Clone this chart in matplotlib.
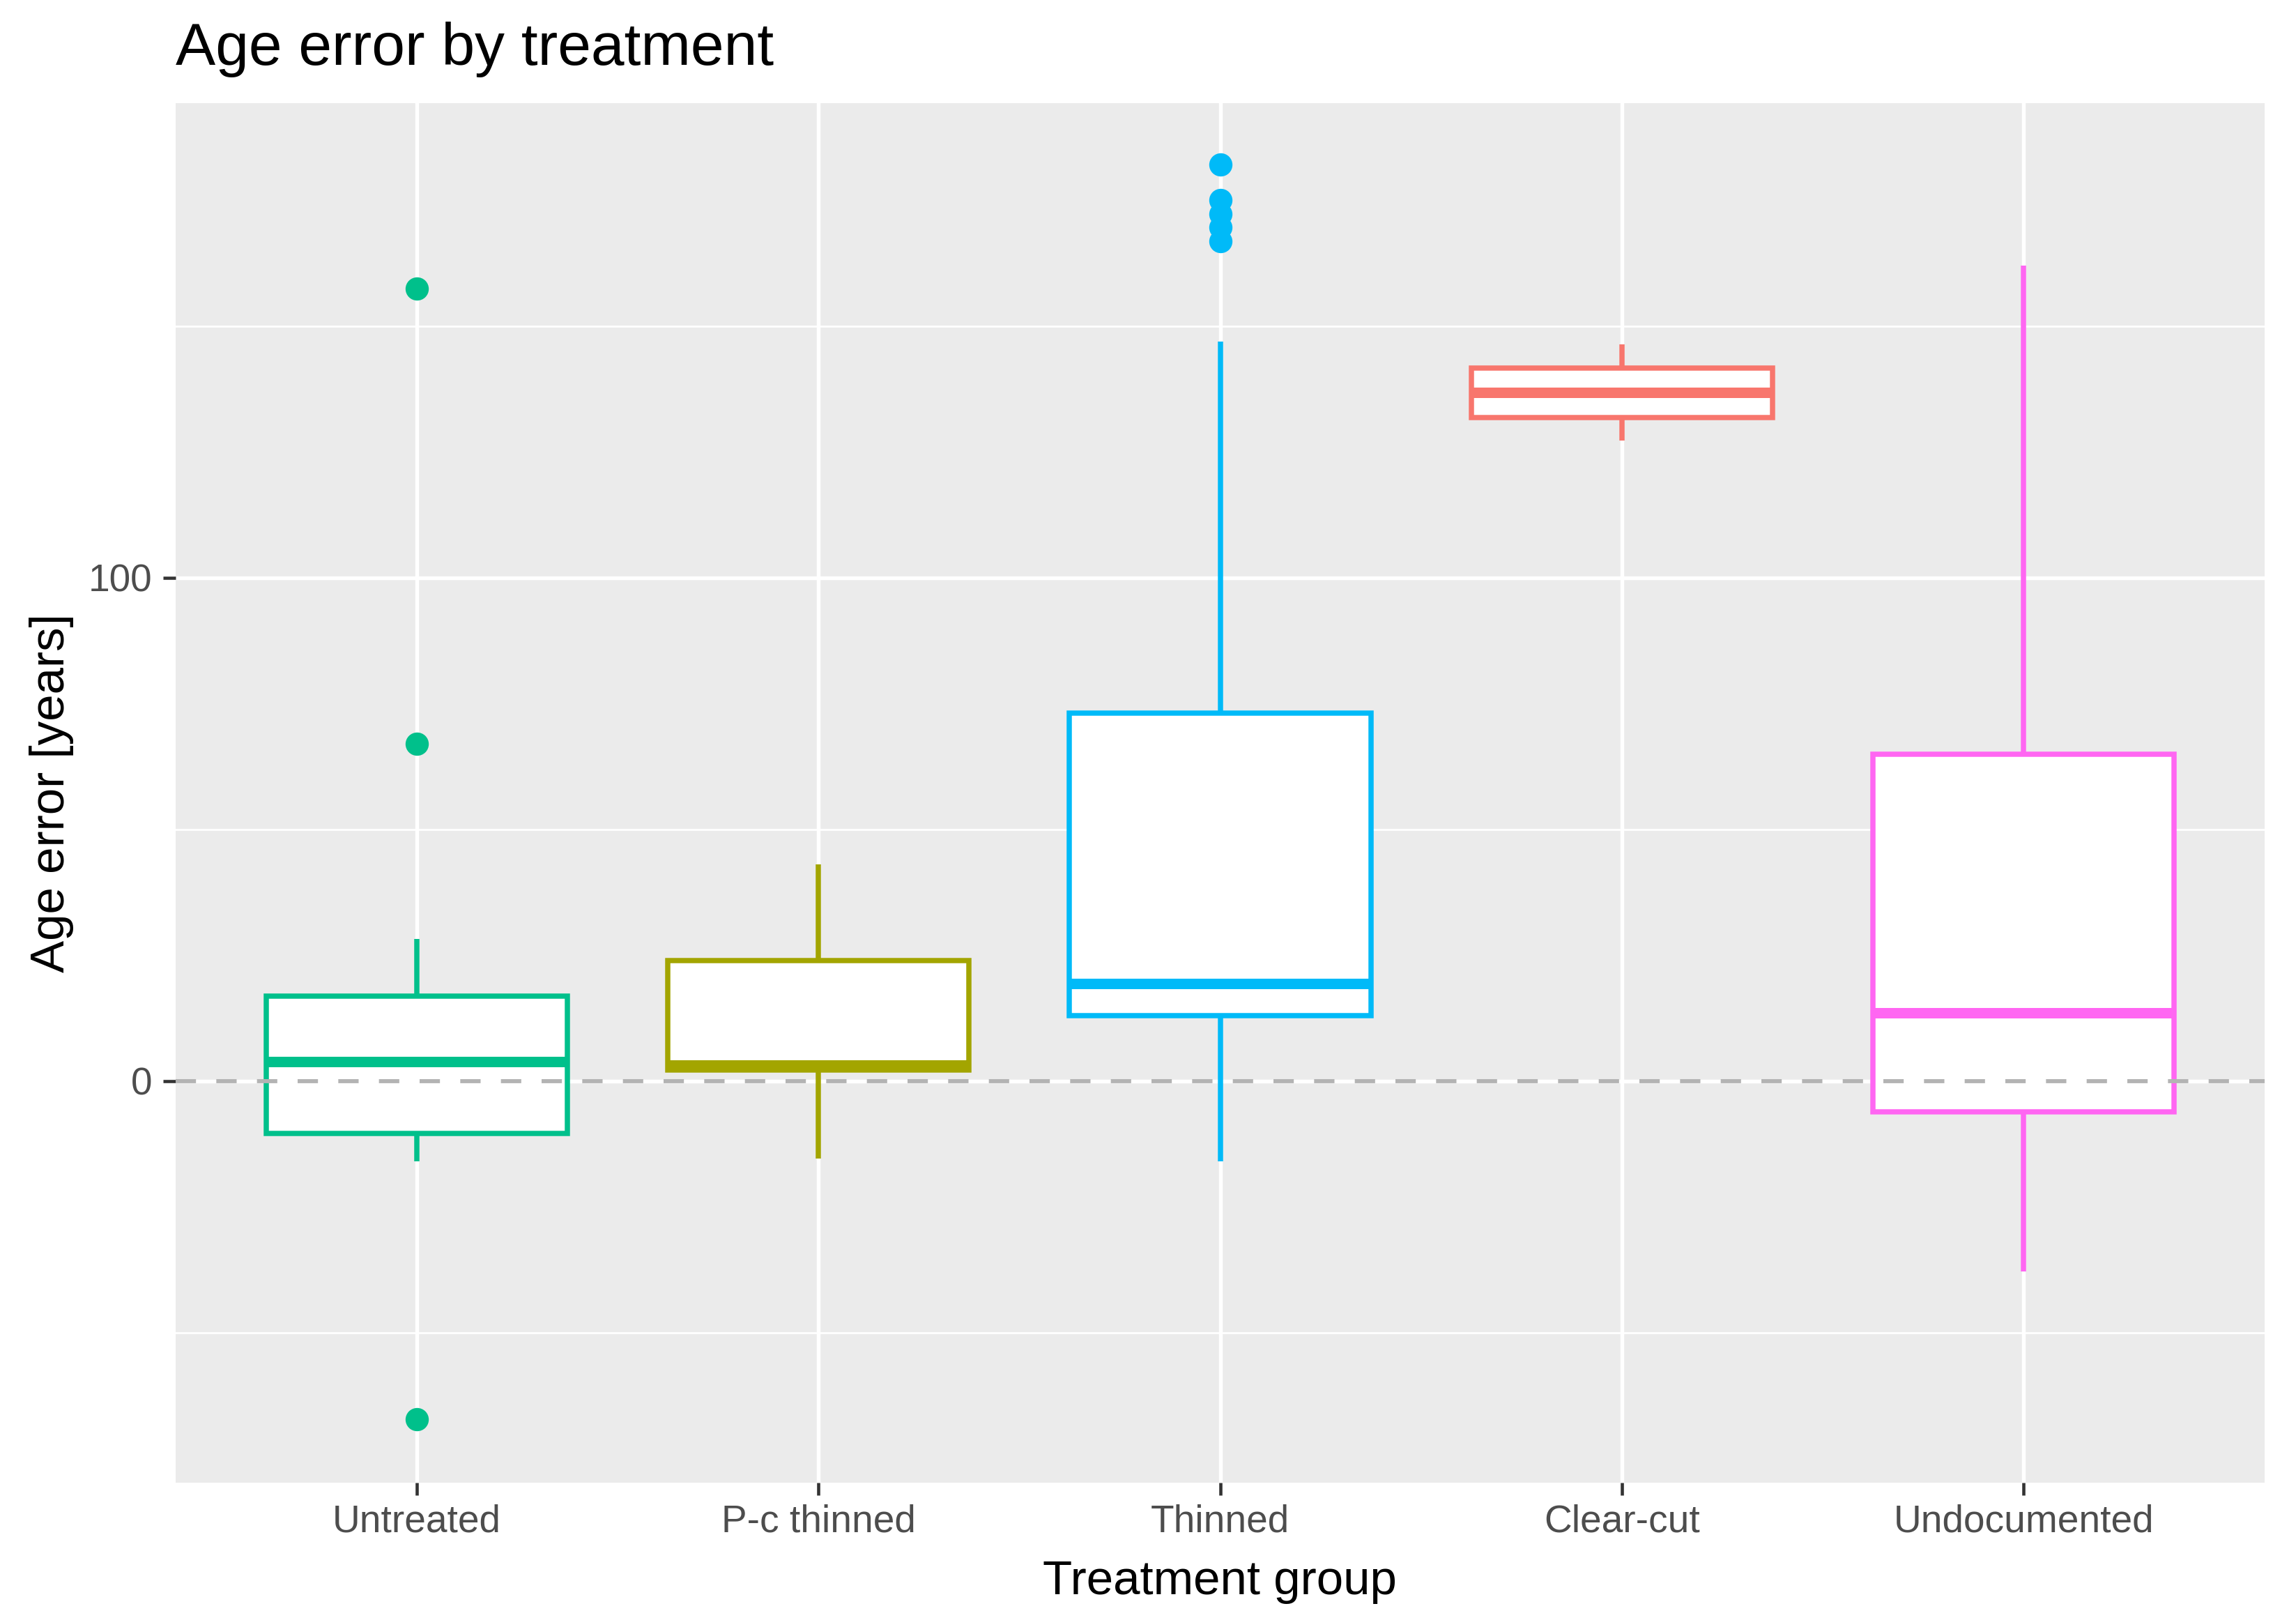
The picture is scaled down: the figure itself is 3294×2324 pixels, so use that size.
import matplotlib
matplotlib.use('Agg')
import matplotlib.pyplot as plt
from matplotlib.ticker import FixedLocator

plt.rcParams['font.family'] = ['Liberation Sans', 'DejaVu Sans']

# datos (años)
grupos = ['Untreated', 'P-c thinned', 'Thinned', 'Clear-cut', 'Undocumented']
colores = ['#00C08B', '#A3A500', '#00BAF8', '#F8766D', '#FF66F2']
bigote_inf = [-15.9, -15.4, -16.0, 127.3, -37.9]
q1 = [-10.4, 2.2, 13.0, 131.8, -6.1]
mediana = [3.9, 3.1, 19.4, 136.8, 13.6]
q3 = [16.9, 23.9, 73.1, 141.7, 64.9]
bigote_sup = [28.2, 43.0, 147.0, 146.4, 162.0]
atipicos = [[157.4, 67.0, -67.2], [], [182.1, 175.0, 172.3, 169.6, 166.9], [], []]

stats = []
for i in range(len(grupos)):
    stats.append(dict(label=grupos[i], whislo=bigote_inf[i], q1=q1[i], med=mediana[i],
                      q3=q3[i], whishi=bigote_sup[i], fliers=atipicos[i]))

fig = plt.figure(figsize=(3295 / 300, 2324 / 300), dpi=300)
ax = fig.add_axes([252 / 3295, 1 - 2127 / 2324, (3249 - 252) / 3295, (2127 - 148) / 2324])
ax.set_facecolor('#EBEBEB')

posiciones = list(range(1, len(grupos) + 1))
lw = 1.8
for i, st in enumerate(stats):
    c = colores[i]
    ax.bxp([st], positions=[posiciones[i]], widths=0.75, patch_artist=True, showcaps=False,
           boxprops=dict(facecolor='white', edgecolor=c, linewidth=lw),
           whiskerprops=dict(color=c, linewidth=lw, solid_capstyle='butt'),
           medianprops=dict(color=c, linewidth=lw * 2, solid_capstyle='butt'),
           flierprops=dict(marker='o', markerfacecolor=c, markeredgecolor=c, markersize=7.0,
                           linestyle='none'),
           zorder=3)

# línea de referencia en 0
ax.axhline(0, color='#B3B3B3', linewidth=1.4, linestyle=(0, (5.0, 5.0)), zorder=4)

ax.set_xlim(0.4, 5.6)
ax.set_ylim(-79.8, 194.3)
ax.set_xticks(posiciones)
ax.set_xticklabels(grupos)
ax.yaxis.set_major_locator(FixedLocator([0, 100]))
ax.yaxis.set_minor_locator(FixedLocator([-50, 50, 150]))
ax.set_yticklabels(['0', '100'])

ax.grid(which='major', color='white', linewidth=1.3, zorder=0)
ax.grid(which='minor', axis='y', color='white', linewidth=0.65, zorder=0)
ax.set_axisbelow(True)
for s in ax.spines.values():
    s.set_visible(False)

ax.tick_params(which='major', length=4.3, width=1.1, color='#333333', labelcolor='#4D4D4D',
               labelsize=13.2)
ax.tick_params(axis='y', pad=3.8)
ax.tick_params(axis='x', pad=3.0)
ax.tick_params(which='minor', length=0)

fig.text(252 / 3295, 1 - 93 / 2324, 'Age error by treatment', fontsize=20.6, ha='left', va='baseline')
fig.text(1750 / 3295, 1 - 2287 / 2324, 'Treatment group', fontsize=16.6, ha='center', va='baseline')
fig.text(74 / 3295, 1 - 1137.5 / 2324, 'Age error [years]', fontsize=16.6, rotation=90,
         ha='center', va='center')

fig.savefig('out.png', dpi=300)
